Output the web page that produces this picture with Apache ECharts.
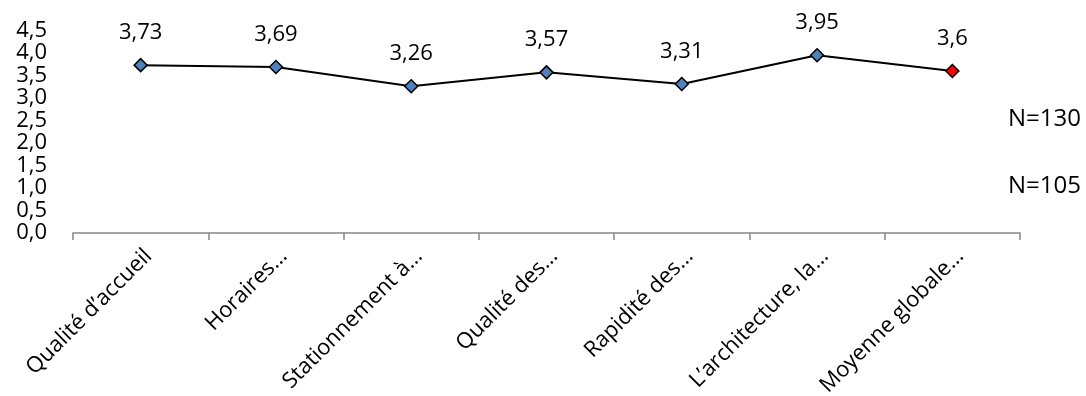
<!DOCTYPE html>
<html>
<head>
<meta charset="utf-8">
<script src="https://cdn.jsdelivr.net/npm/echarts@6/dist/echarts.min.js"></script>
<style>
  html, body { margin: 0; padding: 0; background: #fff; }
  #chart { width: 1086px; height: 396px; }
</style>
</head>
<body>
<div id="chart"></div>
<script>
// Satisfaction scores per criterion
const categories = [
  'Qualité d’accueil',
  'Horaires…',
  'Stationnement à…',
  'Qualité des…',
  'Rapidité des…',
  'L’architecture, la…',
  'Moyenne globale…'
];
const scores = [3.73, 3.69, 3.26, 3.57, 3.31, 3.95, 3.6];
const yTicks = { min: 0, max: 4.5, interval: 0.5 };
const sampleNotes = ['N=130', 'N=105'];

const FONT = '"Open Sans", "Liberation Sans", sans-serif';
const FS = 22;
const fmt = v => String(v).replace('.', ',');

const chart = echarts.init(document.getElementById('chart'), null, { renderer: 'canvas' });

chart.setOption({
  animation: false,
  backgroundColor: '#ffffff',
  textStyle: { fontFamily: FONT, color: '#000' },
  grid: {
    left: 73, right: 66, top: 30.5, bottom: 163,
    containLabel: false,
    outerBoundsMode: 'none'
  },
  xAxis: {
    type: 'category',
    data: categories,
    boundaryGap: true,
    axisLine: { lineStyle: { color: '#868686', width: 1.5 } },
    axisTick: { show: true, inside: false, length: 7, lineStyle: { color: '#868686', width: 1.5 } },
    axisLabel: {
      interval: 0,
      rotate: 45,
      margin: 12,
      align: 'right',
      verticalAlign: 'top',
      hideOverlap: false,
      fontSize: FS,
      fontFamily: FONT,
      color: '#000'
    },
    splitLine: { show: false }
  },
  yAxis: {
    type: 'value',
    min: yTicks.min,
    max: yTicks.max,
    interval: yTicks.interval,
    axisLine: { show: false },
    axisTick: { show: false },
    splitLine: { show: false },
    axisLabel: {
      margin: 26,
      fontSize: FS,
      fontFamily: FONT,
      color: '#000',
      showMinLabel: true,
      showMaxLabel: true,
      hideOverlap: false,
      formatter: v => v.toFixed(1).replace('.', ',')
    }
  },
  series: [{
    type: 'line',
    data: scores.map((v, i) => ({
      value: v,
      itemStyle: { color: i === scores.length - 1 ? '#ff0000' : '#4f81bd' }
    })),
    symbol: 'diamond',
    symbolSize: 13,
    showAllSymbol: true,
    lineStyle: { color: '#000', width: 2 },
    itemStyle: { borderColor: '#000', borderWidth: 1.5 },
    label: {
      show: true,
      position: 'top',
      distance: 14,
      fontSize: FS,
      fontFamily: FONT,
      color: '#000',
      formatter: p => fmt(p.value)
    },
    z: 3
  }],
  graphic: [
    { type: 'text', x: 1008, y: 119, style: { text: sampleNotes[0], font: '24px ' + FONT, fill: '#000', verticalAlign: 'middle' } },
    { type: 'text', x: 1008, y: 186, style: { text: sampleNotes[1], font: '24px ' + FONT, fill: '#000', verticalAlign: 'middle' } }
  ]
});
</script>
</body>
</html>
